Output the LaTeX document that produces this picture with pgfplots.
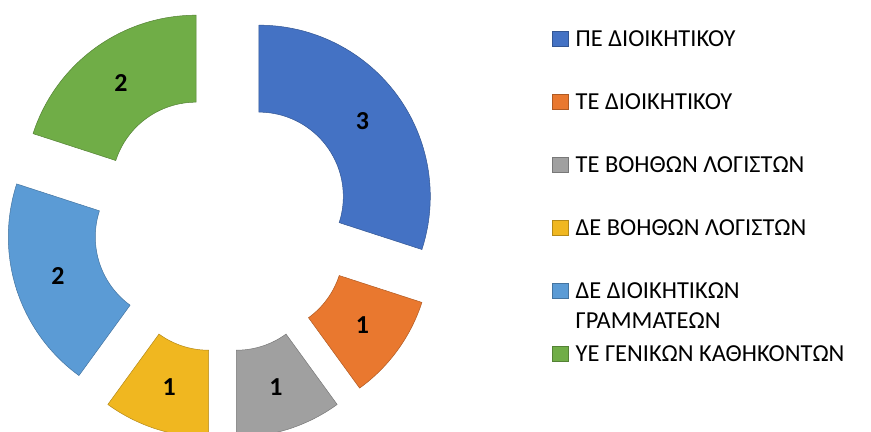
\documentclass[border=0pt]{standalone}
\usepackage{fontspec}
\setmainfont{Carlito}
\usepackage{pgfplots}
\usepackage{pgfplotstable}
\pgfplotsset{compat=1.18}
\definecolor{c0}{HTML}{4472C4}
\definecolor{c1}{HTML}{E9782F}
\definecolor{c2}{HTML}{A0A0A0}
\definecolor{c3}{HTML}{F0B720}
\definecolor{c4}{HTML}{5B9BD5}
\definecolor{c5}{HTML}{70AD47}
\pgfplotstableread{
value
3
1
1
1
2
2
}\slices
\begin{document}
\begin{tikzpicture}[declare function={
 rr(\t)= \t<=1 ? \Rout : (\t<=2 ? \Rout+(\Rin-\Rout)*(\t-1) : (\t<=3 ? \Rin : \Rin+(\Rout-\Rin)*(\t-3)));
 th(\t)= \aS+(\aE-\aS)*(\t<=1 ? \t : (\t<=2 ? 1 : (\t<=3 ? 3-\t : 0)));
}]
\def\cx{222.5}\def\cy{209}
\def\Rout{171.4}\def\Rin{84.4}\def\Dex{45}
\def\total{0}
\pgfplotsforeachungrouped \i in {0,...,5}{%
 \pgfplotstablegetelem{\i}{value}\of\slices
 \pgfmathsetmacro{\total}{\total+\pgfplotsretval}%
}
\def\cum{0}
\pgfplotsforeachungrouped \i in {0,...,5}{%
 \pgfplotstablegetelem{\i}{value}\of\slices
 \let\val\pgfplotsretval
 \pgfmathsetmacro{\aS}{90-360*\cum/\total}%
 \pgfmathsetmacro{\cum}{\cum+\val}%
 \pgfmathsetmacro{\aE}{90-360*\cum/\total}%
 \pgfmathsetmacro{\aM}{(\aS+\aE)/2}%
 \pgfmathsetmacro{\ox}{\cx+\Dex*cos(\aM)}%
 \pgfmathsetmacro{\oy}{\cy+\Dex*sin(\aM)}%
 \pgfmathsetmacro{\lx}{\ox+0.5*(\Rout+\Rin)*cos(\aM)}%
 \pgfmathsetmacro{\ly}{\oy+0.5*(\Rout+\Rin)*sin(\aM)}%
 \expandafter\xdef\csname sa\i\endcsname{\aS}%
 \expandafter\xdef\csname se\i\endcsname{\aE}%
 \expandafter\xdef\csname ox\i\endcsname{\ox}%
 \expandafter\xdef\csname oy\i\endcsname{\oy}%
 \expandafter\xdef\csname lx\i\endcsname{\lx}%
 \expandafter\xdef\csname ly\i\endcsname{\ly}%
 \expandafter\xdef\csname lv\i\endcsname{\val}%
}
\begin{axis}[
 width=871bp, height=432bp, scale only axis,
 xmin=0, xmax=871, ymin=0, ymax=432,
 axis lines=none, clip=false,
 legend image code/.code={\fill[#1] (0bp,-7.5bp) rectangle (16bp,7.5bp);},
 legend cell align=left,
 legend style={at={(axis cs:552,404.5)}, anchor=north west, draw=none, fill=none,
   inner sep=0pt, row sep=40bp, cells={anchor=west},
   font=\fontsize{24.5}{30}\selectfont,
   nodes={text height=19bp, text depth=4bp, inner sep=0pt},
   /tikz/every odd column/.append style={column sep=7bp}},
]
\pgfplotsinvokeforeach{0,...,5}{
 \edef\aS{\csname sa#1\endcsname}\edef\aE{\csname se#1\endcsname}%
 \edef\ox{\csname ox#1\endcsname}\edef\oy{\csname oy#1\endcsname}%
 \addplot[fill=c#1, draw=c#1!75!black, line width=0.5pt, domain=0:4, samples=201, variable=\t]
  ({\ox+rr(\t)*cos(th(\t))}, {\oy+rr(\t)*sin(th(\t))});
}
\legend{ΠΕ ΔΙΟΙΚΗΤΙΚΟΥ, ΤΕ ΔΙΟΙΚΗΤΙΚΟΥ, ΤΕ ΒΟΗΘΩΝ ΛΟΓΙΣΤΩΝ, ΔΕ ΒΟΗΘΩΝ ΛΟΓΙΣΤΩΝ,
 {\vphantom{Δ}\smash{\begin{tabular}[t]{@{}l@{}}ΔΕ ΔΙΟΙΚΗΤΙΚΩΝ\\ΓΡΑΜΜΑΤΕΩΝ\end{tabular}}},
 ΥΕ ΓΕΝΙΚΩΝ ΚΑΘΗΚΟΝΤΩΝ}
\pgfplotsinvokeforeach{0,...,5}{
 \node[font=\bfseries\fontsize{26}{26}\selectfont] at (axis cs:\csname lx#1\endcsname,\csname ly#1\endcsname) {\csname lv#1\endcsname};
}
\end{axis}
\pgfresetboundingbox
\path (0,0) rectangle (871bp,432bp);
\end{tikzpicture}
\end{document}
